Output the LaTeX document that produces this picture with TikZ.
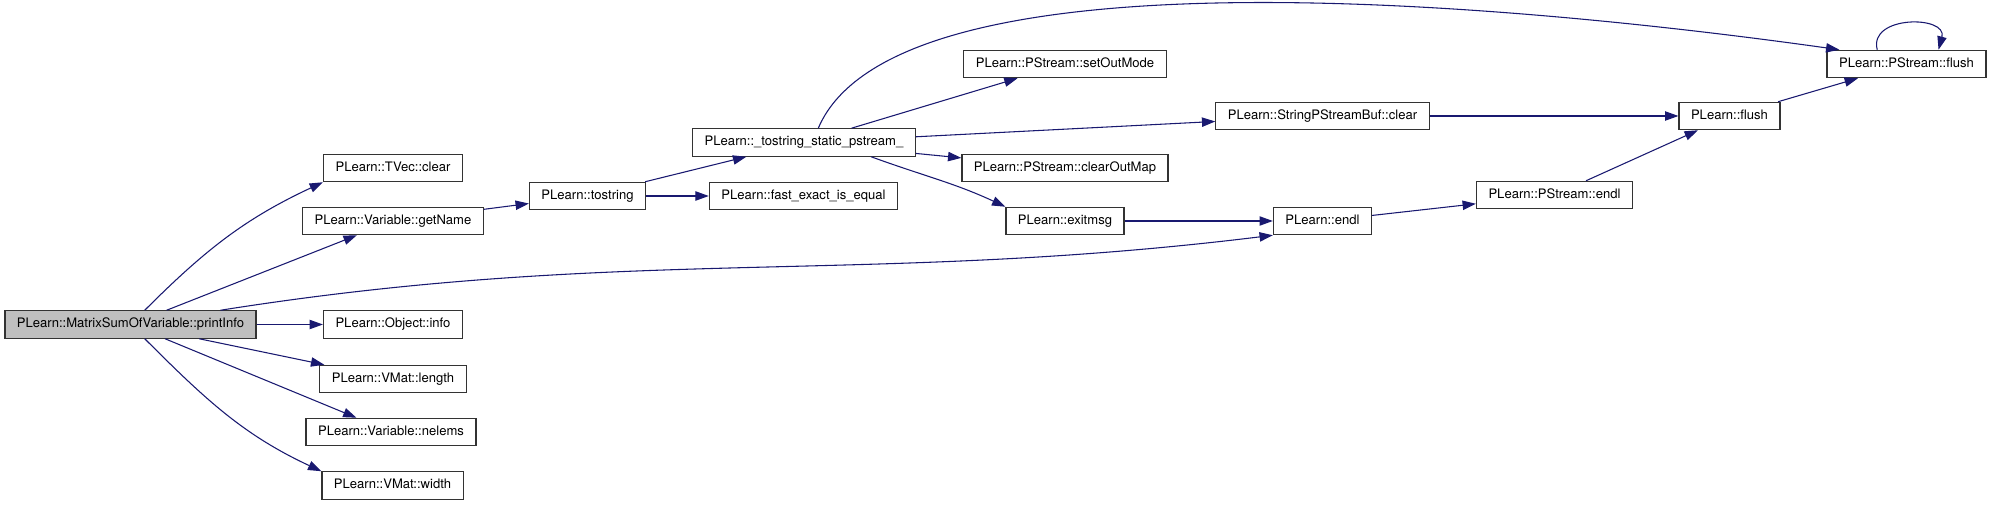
\documentclass[tikz,border=0pt]{standalone}
\usepackage{fontspec}
\setmainfont{TeX Gyre Heros}
\usepackage{xcolor}
\usetikzlibrary{arrows.meta}
\definecolor{callblue}{RGB}{25,25,112}

\begin{document}
\begin{tikzpicture}[x=0.75pt, y=0.75pt,
        box/.style={rectangle, draw=black!80, line width=0.9pt, inner xsep=9pt, inner ysep=0pt, minimum height=20.5pt, text height=7.1pt, text depth=2.1pt, font=\fontsize{9.8}{11.8}\selectfont},
        call/.style={draw=callblue, line width=0.8pt, -{Triangle[length=10pt, width=7pt]}}]
        \useasboundingbox (0,0) rectangle (1992,-505);

        \node[box, fill=black!25] (1) at (130.5,-324.5) {PLearn::MatrixSumOfVariable::printInfo};
        \node[box] (2) at (393,-168) {PLearn::TVec::clear};
        \node[box] (3) at (393,-221) {PLearn::Variable::getName};
        \node[box] (4) at (393,-324.5) {PLearn::Object::info};
        \node[box] (5) at (393,-379) {PLearn::VMat::length};
        \node[box] (6) at (391,-432) {PLearn::Variable::nelems};
        \node[box] (7) at (392.5,-485.5) {PLearn::VMat::width};
        \node[box] (8) at (587.5,-196) {PLearn::tostring};
        \node[box] (9) at (804,-142.5) {PLearn::\_tostring\_static\_pstream\_};
        \node[box] (10) at (803.5,-196) {PLearn::fast\_exact\_is\_equal};
        \node[box] (11) at (1065,-64) {PLearn::PStream::setOutMode};
        \node[box] (12) at (1322.5,-116) {PLearn::StringPStreamBuf::clear};
        \node[box] (13) at (1065,-168) {PLearn::PStream::clearOutMap};
        \node[box] (14) at (1065,-221) {PLearn::exitmsg};
        \node[box] (15) at (1322.5,-221) {PLearn::endl};
        \node[box] (16) at (1554.5,-195) {PLearn::PStream::endl};
        \node[box] (17) at (1729.5,-116) {PLearn::flush};
        \node[box] (18) at (1906.5,-64) {PLearn::PStream::flush};

        \draw[call] (1) to[out=45, in=205] (2.south west);
        \draw[call] (1) -- (3);
        \draw[call] (1) to[out=9, in=187] (15.south west);
        \draw[call] (1) -- (4);
        \draw[call] (1) -- (5);
        \draw[call] (1) -- (6);
        \draw[call] (1) to[out=-45, in=155] (7.north west);
        \draw[call] (3) -- (8);
        \draw[call] (8) -- (9);
        \draw[call] (8) -- (10);
        \draw[call] (9.45) to[out=67, in=172, out distance=154pt, in distance=220pt] (18.168);
        \draw[call] (9) -- (11);
        \draw[call] (9) -- (12);
        \draw[call] (9) -- (13);
        \draw[call] (9.348) to[out=-20, in=155] (14.north west);
        \draw[call] (14) -- (15);
        \draw[call] (15) -- (16);
        \draw[call] (16) -- (17);
        \draw[call] (12) -- (17);
        \draw[call] (17) -- (18);
        \draw[call] (18.154) to[out=105, in=75, looseness=1.5] (18.24);
\end{tikzpicture}
\end{document}
